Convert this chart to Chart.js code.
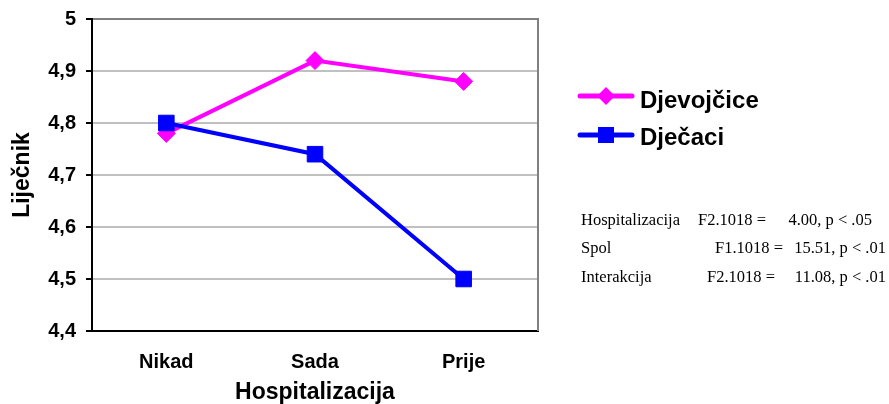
<!DOCTYPE html>
<html>
<head>
<meta charset="utf-8">
<script src="https://cdn.jsdelivr.net/npm/chart.js@4.4.0/dist/chart.umd.min.js"></script>
<style>
  html, body { margin: 0; padding: 0; background: #fff; }
  #wrap { position: relative; width: 889px; height: 404px; }
  canvas { position: absolute; left: 0; top: 0; }
  .st { position: absolute; font-family: "Liberation Serif", "Times New Roman", serif; font-size: 16.5px; color: #000; white-space: pre; line-height: 1; }
</style>
</head>
<body>
<div id="wrap">
  <canvas id="c" width="889" height="404"></canvas>
  <div class="st" style="left:581px;top:212px">Hospitalizacija</div>
  <div class="st" style="left:698px;top:212px">F2.1018 =</div>
  <div class="st" style="right:17px;top:212px">4.00, p &lt; .05</div>
  <div class="st" style="left:581px;top:240px">Spol</div>
  <div class="st" style="left:715px;top:240px">F1.1018 =</div>
  <div class="st" style="right:3px;top:240px">15.51, p &lt; .01</div>
  <div class="st" style="left:581px;top:269px">Interakcija</div>
  <div class="st" style="left:707px;top:269px">F2.1018 =</div>
  <div class="st" style="right:3px;top:269px">11.08, p &lt; .01</div>
</div>
<script>
var categories = ['Nikad', 'Sada', 'Prije'];
var djevojcice = [4.78, 4.92, 4.88];
var djecaci = [4.80, 4.74, 4.50];
var yMin = 4.4, yMax = 5, yStep = 0.1;

var FONT = '"Liberation Sans", Arial, sans-serif';

// right border of the plot + legend on the right side
var extras = {
  id: 'extras',
  beforeDatasetsDraw: function (chart) {
    var ctx = chart.ctx, a = chart.chartArea;
    ctx.save();
    ctx.strokeStyle = '#808080';
    ctx.lineWidth = 2;
    ctx.beginPath();
    ctx.moveTo(a.right, a.top - 1);
    ctx.lineTo(a.right, a.bottom);
    ctx.stroke();
    ctx.restore();
  },
  afterDraw: function (chart) {
    var ctx = chart.ctx;
    ctx.save();
    // Djevojcice
    ctx.strokeStyle = '#ff00ff';
    ctx.fillStyle = '#ff00ff';
    ctx.lineWidth = 5;
    ctx.lineCap = 'round';
    ctx.beginPath(); ctx.moveTo(580, 96); ctx.lineTo(632, 96); ctx.stroke();
    ctx.beginPath();
    ctx.moveTo(606, 87); ctx.lineTo(615, 96); ctx.lineTo(606, 105); ctx.lineTo(597, 96);
    ctx.closePath(); ctx.fill();
    // Djecaci
    ctx.strokeStyle = '#0000ff';
    ctx.fillStyle = '#0000ff';
    ctx.beginPath(); ctx.moveTo(580, 135); ctx.lineTo(632, 135); ctx.stroke();
    ctx.fillRect(598, 127, 16, 16);

    ctx.fillStyle = '#000';
    ctx.font = 'bold 24px ' + FONT;
    ctx.textBaseline = 'middle';
    ctx.textAlign = 'left';
    ctx.fillText('Djevojčice', 640, 101);
    ctx.fillText('Dječaci', 640, 138);
    ctx.restore();
  }
};

new Chart(document.getElementById('c'), {
  type: 'line',
  data: {
    labels: categories,
    datasets: [{
      label: 'Djevojčice',
      data: djevojcice,
      borderColor: '#ff00ff',
      backgroundColor: '#ff00ff',
      borderWidth: 4,
      pointStyle: 'rectRot',
      pointRadius: 9,
      pointBorderWidth: 1,
      fill: false,
      tension: 0,
      order: 1
    }, {
      label: 'Dječaci',
      data: djecaci,
      borderColor: '#0000ff',
      backgroundColor: '#0000ff',
      borderWidth: 4,
      pointStyle: 'rect',
      pointRadius: 11,
      pointBorderWidth: 1,
      fill: false,
      tension: 0,
      order: 0
    }]
  },
  options: {
    responsive: false,
    animation: false,
    devicePixelRatio: 1,
    layout: { padding: { left: 0, right: 351, top: 19, bottom: 0 } },
    plugins: {
      legend: { display: false },
      tooltip: { enabled: false }
    },
    scales: {
      x: {
        offset: true,
        grid: { display: false },
        border: { color: '#000', width: 2 },
        ticks: { color: '#000', font: { family: FONT, size: 20, weight: 'bold' }, padding: 11 },
        title: { display: true, text: 'Hospitalizacija', color: '#000', font: { family: FONT, size: 23, weight: 'bold' }, padding: { top: 0, bottom: -2 } },
        afterFit: function (s) { s.height = 73; s.paddingLeft = 0; s.paddingRight = 0; }
      },
      y: {
        min: yMin,
        max: yMax,
        ticks: {
          stepSize: yStep,
          color: '#000',
          padding: 10,
          font: { family: FONT, size: 20, weight: 'bold' },
          callback: function (v) { return (Math.round(v * 10) / 10).toString().replace('.', ','); }
        },
        grid: {
          color: function (c) { return c.tick && Math.abs(c.tick.value - yMax) < 1e-6 ? '#808080' : '#c0c0c0'; },
          lineWidth: 2,
          tickColor: '#000',
          tickLength: 6
        },
        border: { color: '#000', width: 2 },
        title: { display: true, text: 'Liječnik', color: '#000', font: { family: FONT, size: 23, weight: 'bold' }, padding: { top: 9, bottom: 0 } },
        afterFit: function (s) { s.width = 92; s.paddingTop = 0; s.paddingBottom = 0; }
      }
    }
  },
  plugins: [extras]
});
</script>
</body>
</html>
